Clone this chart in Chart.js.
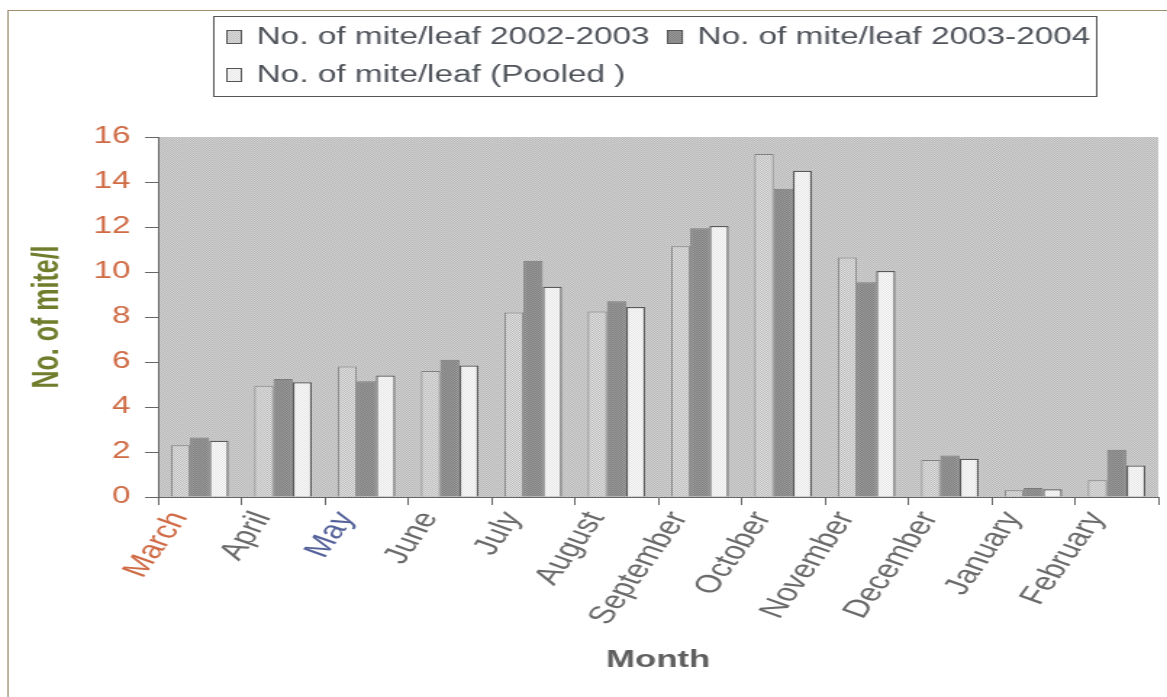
<!DOCTYPE html>
<html>
<head>
<meta charset="utf-8">
<script src="https://cdn.jsdelivr.net/npm/chart.js@4"></script>
<style>
	html, body { margin: 0; padding: 0; background: #fff; overflow: hidden; }
	#wrap { width: 805px; height: 697px; transform: scaleX(1.4497); transform-origin: 0 0; }
</style>
</head>
<body>
<div id="wrap"><canvas id="chart" width="805" height="697"></canvas></div>
<script>
const months = ['March', 'April', 'May', 'June', 'July', 'August', 'September', 'October', 'November', 'December', 'January', 'February'];
const monthColors = ['#cf6b45', '#6a6a6a', '#55629a', '#6a6a6a', '#6a6a6a', '#6a6a6a', '#6a6a6a', '#6a6a6a', '#6a6a6a', '#6a6a6a', '#6a6a6a', '#6a6a6a'];
const mites2002 = [2.3, 4.95, 5.8, 5.6, 8.2, 8.25, 11.15, 15.25, 10.65, 1.65, 0.3, 0.75];
const mites2003 = [2.65, 5.25, 5.15, 6.1, 10.5, 8.7, 11.95, 13.7, 9.55, 1.85, 0.4, 2.1];
const mitesPooled = [2.5, 5.1, 5.4, 5.85, 9.35, 8.45, 12.05, 14.5, 10.05, 1.7, 0.35, 1.4];
const yTicks = [0, 2, 4, 6, 8, 10, 12, 14, 16];

const FONT = "'Liberation Sans', Arial, sans-serif";

// small checker texture, like the scanned screen tones
const makePattern = (base, dot) => {
	const c = document.createElement('canvas');
	c.width = 2;
	c.height = 2;
	const g = c.getContext('2d');
	g.fillStyle = base;
	g.fillRect(0, 0, 2, 2);
	g.fillStyle = dot;
	g.fillRect(0, 0, 1, 1);
	g.fillRect(1, 1, 1, 1);
	return g.createPattern(c, 'repeat');
};

const plotFill = makePattern('#d4d4d4', '#b6b6b6');
const fill2002 = makePattern('#e0e0e0', '#bcbcbc');
const fill2003 = makePattern('#9c9c9c', '#7e7e7e');
const fillPooled = makePattern('#fafafa', '#e6e6e6');

const plotBackground = {
	id: 'plotBackground',
	beforeDraw(chart) {
		const { ctx, chartArea: a } = chart;
		ctx.save();
		ctx.fillStyle = plotFill;
		ctx.fillRect(a.left, a.top, a.right - a.left, a.bottom - a.top);
		ctx.restore();
	}
};

const boxedLegend = {
	id: 'boxedLegend',
	afterDraw(chart) {
		const ctx = chart.ctx;
		ctx.save();
		// page frame
		ctx.strokeStyle = '#9a9070';
		ctx.lineWidth = 1;
		ctx.strokeRect(5.5, 10.5, 900, 800);
		// legend box
		ctx.strokeStyle = '#555';
		ctx.strokeRect(147.5, 16.5, 609, 80);
		ctx.font = `23px ${FONT}`;
		ctx.textBaseline = 'middle';
		const ds = chart.data.datasets;
		const w0 = ctx.measureText(ds[0].label).width;
		const spots = [
			{ x: 156, y: 37 },
			{ x: 177 + w0 + 12, y: 37 },
			{ x: 156, y: 75 }
		];
		ds.forEach((d, i) => {
			const p = spots[i];
			ctx.fillStyle = d.backgroundColor;
			ctx.fillRect(p.x, p.y - 7, 11, 14);
			ctx.strokeStyle = '#555';
			ctx.strokeRect(p.x + 0.5, p.y - 6.5, 10, 13);
			ctx.fillStyle = '#4f535a';
			ctx.fillText(d.label, p.x + 21, p.y + 1);
		});
		ctx.restore();
	}
};

new Chart(document.getElementById('chart'), {
	type: 'bar',
	data: {
		labels: months,
		datasets: [
			{
				label: 'No. of mite/leaf 2002-2003',
				data: mites2002,
				backgroundColor: fill2002,
				borderColor: '#808080',
				borderWidth: 1
			},
			{
				label: 'No. of mite/leaf 2003-2004',
				data: mites2003,
				backgroundColor: fill2003,
				borderColor: '#7a7a7a',
				borderWidth: 1
			},
			{
				label: 'No. of mite/leaf (Pooled )',
				data: mitesPooled,
				backgroundColor: fillPooled,
				borderColor: '#5a5a5a',
				borderWidth: 1.3
			}
		]
	},
	options: {
		responsive: false,
		animation: false,
		categoryPercentage: 0.69,
		barPercentage: 1,
		layout: { padding: { top: 137, right: 6, left: 0, bottom: 0 } },
		plugins: {
			legend: { display: false },
			tooltip: { enabled: false }
		},
		scales: {
			x: {
				afterFit: (s) => { s.height = 200; },
				grid: { drawOnChartArea: false, tickLength: 8, color: '#666' },
				border: { color: '#666' },
				ticks: {
					autoSkip: false,
					minRotation: 63,
					maxRotation: 63,
					labelOffset: -14,
					padding: 2,
					color: (c) => monthColors[c.index],
					font: { family: FONT, size: 25 }
				},
				title: {
					display: true,
					text: 'Month',
					color: '#5f5f5f',
					font: { family: FONT, size: 24, weight: 'bold' },
					padding: { top: 0, bottom: 22 }
				}
			},
			y: {
				min: 0,
				max: 16,
				afterFit: (s) => { s.width = 109; },
				afterBuildTicks: (s) => { s.ticks = yTicks.map((v) => ({ value: v })); },
				grid: { drawOnChartArea: false, tickLength: 9, color: '#666' },
				border: { color: '#666' },
				ticks: {
					padding: 10,
					color: '#cf6b45',
					font: { family: FONT, size: 23 }
				},
				title: {
					display: true,
					text: 'No. of mite/l',
					color: '#6f7d2c',
					font: { family: FONT, size: 25, weight: 'bold' },
					padding: { top: 18, bottom: 0 }
				}
			}
		}
	},
	plugins: [plotBackground, boxedLegend]
});
</script>
</body>
</html>
